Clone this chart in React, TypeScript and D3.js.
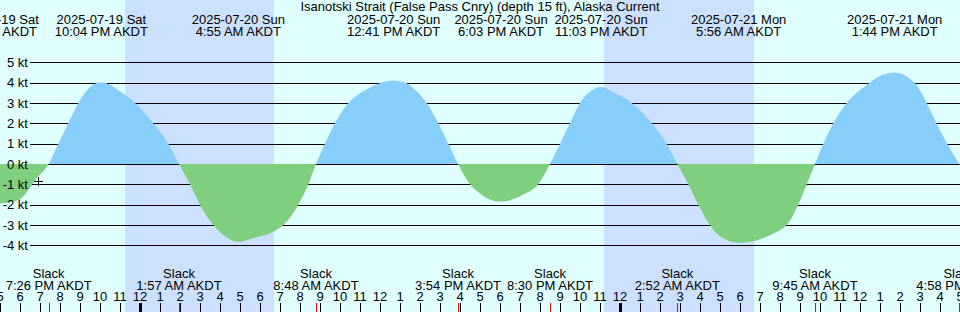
import React from "react";
import * as d3 from "d3";

const W = 960;
const H = 312;

const title = "Isanotski Strait (False Pass Cnry) (depth 15 ft), Alaska Current";

const domainTimes = ["2025-07-19 17:00", "2025-07-21 17:00"];

const nightStarts = ["2025-07-19 23:15", "2025-07-20 23:12"];
const nightEnds = ["2025-07-20 06:42", "2025-07-21 06:42"];

const curveTimes = [
  "2025-07-19 16:42", "2025-07-19 17:00", "2025-07-19 18:00", "2025-07-19 18:20", "2025-07-19 18:45",
  "2025-07-19 19:26", "2025-07-19 19:55", "2025-07-19 20:25", "2025-07-19 20:55", "2025-07-19 21:15",
  "2025-07-19 21:35", "2025-07-19 22:04", "2025-07-19 22:30", "2025-07-19 23:00", "2025-07-19 23:45",
  "2025-07-20 00:40", "2025-07-20 01:25", "2025-07-20 01:57", "2025-07-20 02:30", "2025-07-20 03:00",
  "2025-07-20 03:40", "2025-07-20 04:15", "2025-07-20 04:55", "2025-07-20 05:45", "2025-07-20 06:40",
  "2025-07-20 07:10", "2025-07-20 07:55", "2025-07-20 08:25", "2025-07-20 08:48", "2025-07-20 09:15",
  "2025-07-20 09:45", "2025-07-20 10:25", "2025-07-20 11:09", "2025-07-20 12:00", "2025-07-20 12:41",
  "2025-07-20 13:20", "2025-07-20 13:51", "2025-07-20 14:20", "2025-07-20 14:55", "2025-07-20 15:25",
  "2025-07-20 15:54", "2025-07-20 16:30", "2025-07-20 17:00", "2025-07-20 17:30", "2025-07-20 18:03",
  "2025-07-20 18:40", "2025-07-20 19:10", "2025-07-20 19:55", "2025-07-20 20:30", "2025-07-20 21:00",
  "2025-07-20 21:30", "2025-07-20 22:00", "2025-07-20 22:30", "2025-07-20 23:03", "2025-07-20 23:45",
  "2025-07-21 00:35", "2025-07-21 01:35", "2025-07-21 02:20", "2025-07-21 02:52", "2025-07-21 03:25",
  "2025-07-21 03:55", "2025-07-21 04:30", "2025-07-21 05:00", "2025-07-21 05:56", "2025-07-21 06:45",
  "2025-07-21 07:30", "2025-07-21 08:00", "2025-07-21 08:20", "2025-07-21 08:55", "2025-07-21 09:20",
  "2025-07-21 09:45", "2025-07-21 10:10", "2025-07-21 10:40", "2025-07-21 11:20", "2025-07-21 12:20",
  "2025-07-21 13:00", "2025-07-21 13:44", "2025-07-21 14:40", "2025-07-21 15:05", "2025-07-21 15:35",
  "2025-07-21 16:05", "2025-07-21 16:58", "2025-07-21 17:10",
];

const curveValues = [
  -1.98, -1.94, -1.74, -1.38, -0.8,
  0, 1, 2, 3, 3.5,
  3.85, 4.02, 3.9, 3.58, 3.0,
  2.0, 1.0, 0, -1, -2,
  -3, -3.55, -3.82, -3.62, -3.33,
  -3.0, -2, -1, 0, 1,
  2, 3, 3.56, 3.97, 4.1,
  3.97, 3.55, 3.0, 2.0, 1.0,
  0, -1, -1.45, -1.75, -1.86,
  -1.72, -1.5, -1.0, 0, 1,
  2, 3, 3.55, 3.78, 3.48,
  3.0, 2.0, 1.0, 0, -1,
  -2, -3, -3.55, -3.87, -3.78,
  -3.5, -3.25, -3.0, -2, -1,
  0, 1, 2, 3, 3.89,
  4.33, 4.5, 4.05, 3.48, 2.5,
  1.5, 0, -0.3,
];

const extremeTimes = [
  "2025-07-19 16:42", "2025-07-19 22:04", "2025-07-20 04:55", "2025-07-20 12:41",
  "2025-07-20 18:03", "2025-07-20 23:03", "2025-07-21 05:56", "2025-07-21 13:44",
];
const extremeDayLabels = [
  "2025-07-19 Sat", "2025-07-19 Sat", "2025-07-20 Sun", "2025-07-20 Sun",
  "2025-07-20 Sun", "2025-07-20 Sun", "2025-07-21 Mon", "2025-07-21 Mon",
];
const extremeTimeLabels = [
  "4:42 PM AKDT", "10:04 PM AKDT", "4:55 AM AKDT", "12:41 PM AKDT",
  "6:03 PM AKDT", "11:03 PM AKDT", "5:56 AM AKDT", "1:44 PM AKDT",
];

const slackTimes = [
  "2025-07-19 19:26", "2025-07-20 01:57", "2025-07-20 08:48", "2025-07-20 15:54",
  "2025-07-20 20:30", "2025-07-21 02:52", "2025-07-21 09:45", "2025-07-21 16:58",
];
const slackTimeLabels = [
  "7:26 PM AKDT", "1:57 AM AKDT", "8:48 AM AKDT", "3:54 PM AKDT",
  "8:30 PM AKDT", "2:52 AM AKDT", "9:45 AM AKDT", "4:58 PM AKDT",
];

const yTicks = [-4, -3, -2, -1, 0, 1, 2, 3, 4, 5];

const nowTime = "2025-07-19 18:55";
const nowValue = -0.86;

const parse = d3.timeParse("%Y-%m-%d %H:%M");
const FONT = "'Liberation Sans', Arial, sans-serif";

export default function App() {
  const x = d3
    .scaleTime()
    .domain(domainTimes.map((s) => parse(s) as Date))
    .range([0, W]);
  const y = d3.scaleLinear().domain([0, 5]).range([164, 62.3]);

  const pts = curveTimes.map((t, i) => ({ t: parse(t) as Date, v: curveValues[i] }));
  const area = d3
    .area<{ t: Date; v: number }>()
    .x((d) => x(d.t))
    .y0(y(0))
    .y1((d) => y(d.v))
    .curve(d3.curveMonotoneX);
  const areaPath = area(pts) || "";

  const hours = x.ticks(d3.timeHour.every(1) as any);
  const hourFmt = d3.timeFormat("%-I");

  const nx = x(parse(nowTime) as Date);
  const ny = y(nowValue);

  return (
    <svg
      width={W}
      height={H}
      style={{ position: "absolute", left: 0, top: 0, display: "block" }}
      fontFamily={FONT}
      fontSize={13}
    >
      <defs>
        <clipPath id="above">
          <rect x={0} y={0} width={W} height={y(0)} />
        </clipPath>
        <clipPath id="below">
          <rect x={0} y={y(0)} width={W} height={H - y(0)} />
        </clipPath>
      </defs>
      <rect x={0} y={0} width={W} height={H} fill="#E0FFFF" />
      {nightStarts.map((s, i) => {
        const a = x(parse(s) as Date);
        const b = x(parse(nightEnds[i]) as Date);
        return <rect key={s} x={a} y={0} width={b - a} height={H} fill="#CCE0FF" />;
      })}
      {yTicks.map((v) => (
        <line
          key={v}
          x1={30}
          x2={W}
          y1={Math.round(y(v)) + 0.5}
          y2={Math.round(y(v)) + 0.5}
          stroke="#000"
          strokeWidth={1}
          shapeRendering="crispEdges"
        />
      ))}
      <path d={areaPath} fill="#87CEFA" clipPath="url(#above)" />
      <path d={areaPath} fill="#7FCF7F" clipPath="url(#below)" />
      {yTicks.map((v) => (
        <text key={"l" + v} x={28} y={y(v)} dy="0.36em" textAnchor="end" fill="#000">
          {`${v} kt`}
        </text>
      ))}
      <g stroke="#000" strokeWidth={1} shapeRendering="crispEdges">
        <line x1={nx - 4.5} x2={nx + 4.5} y1={Math.round(ny) + 0.5} y2={Math.round(ny) + 0.5} />
        <line x1={Math.round(nx) + 0.5} x2={Math.round(nx) + 0.5} y1={ny - 4.5} y2={ny + 4.5} />
      </g>
      <text x={W / 2} y={10.5} textAnchor="middle" fill="#000">
        {title}
      </text>
      {extremeTimes.map((s, i) => {
        const cx = x(parse(s) as Date);
        return (
          <g key={s}>
            <text x={cx} y={24} textAnchor="middle" fill="#000">
              {extremeDayLabels[i]}
            </text>
            <text x={cx} y={36} textAnchor="middle" fill="#000">
              {extremeTimeLabels[i]}
            </text>
          </g>
        );
      })}
      {slackTimes.map((s, i) => {
        const cx = x(parse(s) as Date);
        return (
          <g key={s}>
            <text x={cx} y={278} textAnchor="middle" fill="#000">
              Slack
            </text>
            <text x={cx} y={290} textAnchor="middle" fill="#000">
              {slackTimeLabels[i]}
            </text>
          </g>
        );
      })}
      {hours.map((h) => {
        const hx = x(h);
        const midnight = h.getHours() === 0;
        return (
          <g key={+h}>
            <text x={hx} y={301} textAnchor="middle" fill="#000">
              {hourFmt(h)}
            </text>
            <line
              x1={midnight ? hx : Math.round(hx) + 0.5}
              x2={midnight ? hx : Math.round(hx) + 0.5}
              y1={303}
              y2={H}
              stroke="#000"
              strokeWidth={midnight ? 3 : 1}
              shapeRendering="crispEdges"
            />
          </g>
        );
      })}
      {slackTimes.map((s) => {
        const sx = Math.round(x(parse(s) as Date)) + 0.5;
        return (
          <line
            key={"t" + s}
            x1={sx}
            x2={sx}
            y1={303}
            y2={H}
            stroke="#FF0000"
            strokeWidth={1}
            shapeRendering="crispEdges"
          />
        );
      })}
    </svg>
  );
}
